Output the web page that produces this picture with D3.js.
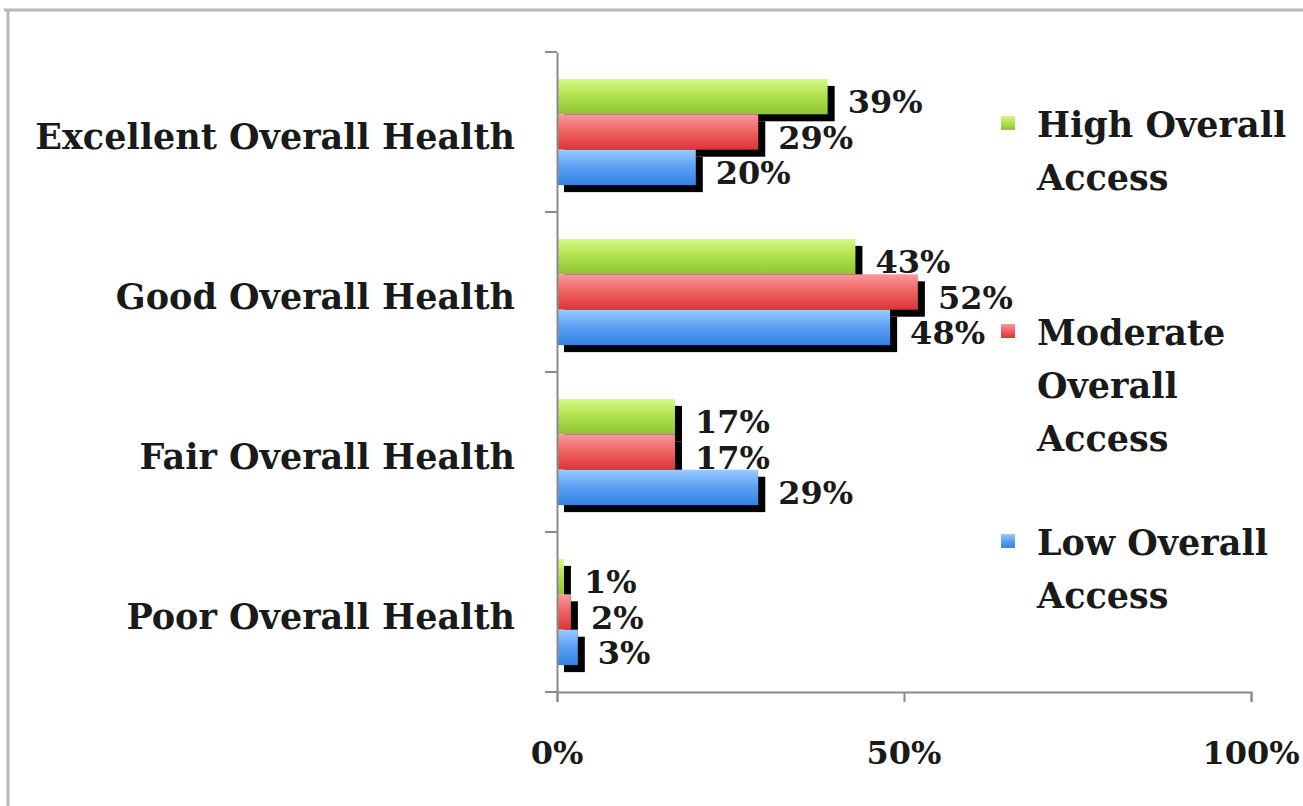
<!DOCTYPE html>
<html>
<head>
<meta charset="utf-8">
<script src="https://cdn.jsdelivr.net/npm/d3@7/dist/d3.min.js"></script>
<style>
  html, body { margin: 0; padding: 0; background: #ffffff; }
  svg { display: block; }
  text { font-family: "DejaVu Serif", serif; font-weight: bold; fill: #1a1a1a; }
</style>
</head>
<body>
<svg id="chart" width="1303" height="806"></svg>
<script>
// Health rating categories (top to bottom)
const categories = [
  "Excellent Overall Health",
  "Good Overall Health",
  "Fair Overall Health",
  "Poor Overall Health"
];

// Access groups, with the legend text broken into lines
const seriesKeys = ["high", "moderate", "low"];
const seriesLegend = [
  ["High Overall", "Access"],
  ["Moderate", "Overall", "Access"],
  ["Low Overall", "Access"]
];

// Percent of respondents in each health category, per access group
const highAccess = [39, 43, 17, 1];
const moderateAccess = [29, 52, 17, 2];
const lowAccess = [20, 48, 29, 3];

// Value axis ticks (percent)
const xTicks = [0, 50, 100];

const seriesValues = { high: highAccess, moderate: moderateAccess, low: lowAccess };

const svg = d3.select("#chart");
const W = 1303, H = 806;

// Outer frame of the chart area
svg.append("rect").attr("x", 0).attr("y", 0).attr("width", W).attr("height", H).attr("fill", "#ffffff");
svg.append("line").attr("x1", 4).attr("x2", W).attr("y1", 10).attr("y2", 10)
  .attr("stroke", "#b8b8b8").attr("stroke-width", 3);
svg.append("line").attr("x1", 8).attr("x2", 8).attr("y1", 10).attr("y2", H)
  .attr("stroke", "#b8b8b8").attr("stroke-width", 3);

const plot = { left: 557, right: 1251, top: 52, bottom: 692 };

const x = d3.scaleLinear().domain([0, 100]).range([plot.left, plot.right]);
const y = d3.scaleBand().domain(categories).range([plot.top, plot.bottom]).paddingInner(0.336).paddingOuter(0.168);
const ySub = d3.scaleBand().domain(seriesKeys).range([0, y.bandwidth()]);

// Gradient fills for the three series
const colors = {
  high: ["#d8f98a", "#b2e34e", "#8fc436"],
  moderate: ["#f89a9a", "#ef6666", "#dc3434"],
  low: ["#9ccaff", "#5ea4f3", "#3481e6"]
};
const defs = svg.append("defs");
seriesKeys.forEach(k => {
  const g = defs.append("linearGradient").attr("id", "grad-" + k)
    .attr("x1", 0).attr("y1", 0).attr("x2", 0).attr("y2", 1);
  g.append("stop").attr("offset", "0%").attr("stop-color", colors[k][0]);
  g.append("stop").attr("offset", "45%").attr("stop-color", colors[k][1]);
  g.append("stop").attr("offset", "100%").attr("stop-color", colors[k][2]);
});

// Flattened rows for drawing
const rows = [];
categories.forEach((c, i) => {
  seriesKeys.forEach(k => rows.push({ cat: c, key: k, value: seriesValues[k][i] }));
});

const shadowOff = 7;

// Drop shadows first, so each bar sits above all shadows
svg.append("g").selectAll("rect").data(rows).join("rect")
  .attr("x", x(0) + shadowOff)
  .attr("y", d => y(d.cat) + ySub(d.key) + shadowOff)
  .attr("width", d => x(d.value) - x(0))
  .attr("height", ySub.bandwidth())
  .attr("fill", "#000000");

svg.append("g").selectAll("rect").data(rows).join("rect")
  .attr("x", x(0))
  .attr("y", d => y(d.cat) + ySub(d.key))
  .attr("width", d => x(d.value) - x(0))
  .attr("height", ySub.bandwidth())
  .attr("fill", d => "url(#grad-" + d.key + ")");

// Value labels beside each bar
svg.append("g").selectAll("text").data(rows).join("text")
  .attr("x", d => x(d.value) + shadowOff + 13)
  .attr("y", d => y(d.cat) + ySub(d.key) + ySub.bandwidth() / 2 + shadowOff - 2)
  .attr("dy", "0.36em")
  .attr("font-size", 32)
  .text(d => d.value + "%");

// Category axis
const yAxis = svg.append("g").attr("transform", `translate(${plot.left},0)`)
  .call(d3.axisLeft(y).tickSize(0).tickFormat(""));
yAxis.select(".domain").attr("stroke", "#8a8a8a").attr("stroke-width", 2);
// Boundary tick marks between categories
const bounds = categories.map(c => y(c) - y.step() * y.paddingInner() / 2).concat([plot.bottom]);
svg.append("g").selectAll("line").data(bounds).join("line")
  .attr("x1", plot.left - 12).attr("x2", plot.left)
  .attr("y1", (d, i) => i === 0 ? plot.top : d).attr("y2", (d, i) => i === 0 ? plot.top : d)
  .attr("stroke", "#8a8a8a").attr("stroke-width", 2);

svg.selectAll(".cat-label").data(categories).join("text")
  .attr("class", "cat-label")
  .attr("x", 515)
  .attr("y", d => y(d) + y.bandwidth() / 2 + 4)
  .attr("dy", "0.36em")
  .attr("text-anchor", "end")
  .attr("font-size", 35)
  .text(d => d);

// Value axis
const xAxis = svg.append("g").attr("transform", `translate(0,${plot.bottom})`)
  .call(d3.axisBottom(x).tickValues(xTicks).tickSize(10).tickPadding(0).tickFormat(""));
xAxis.select(".domain").attr("stroke", "#8a8a8a").attr("stroke-width", 2);
xAxis.selectAll(".tick line").attr("stroke", "#8a8a8a").attr("stroke-width", 2);

svg.selectAll(".x-label").data(xTicks).join("text")
  .attr("class", "x-label")
  .attr("x", d => x(d))
  .attr("y", 764)
  .attr("text-anchor", "middle")
  .attr("font-size", 32)
  .text(d => d + "%");

// Legend
const legendTop = [137, 345, 555];
const lineH = 53;
const legend = svg.append("g");
seriesKeys.forEach((k, i) => {
  legend.append("rect")
    .attr("x", 1001).attr("y", legendTop[i] - 21)
    .attr("width", 14).attr("height", 14)
    .attr("fill", "url(#grad-" + k + ")");
  seriesLegend[i].forEach((line, j) => {
    legend.append("text")
      .attr("x", 1037).attr("y", legendTop[i] + j * lineH)
      .attr("font-size", 35)
      .text(line);
  });
});
</script>
</body>
</html>
